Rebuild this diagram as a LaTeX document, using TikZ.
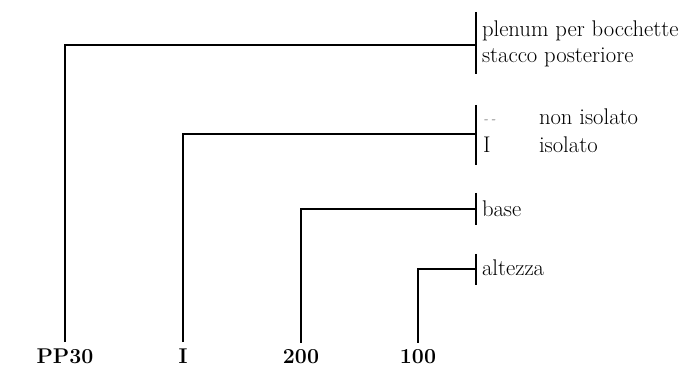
\documentclass[tikz,border=0pt]{standalone}
\begin{document}
\begin{tikzpicture}[x=0.75pt,y=-0.75pt,line width=1.5pt]
\tikzset{
  txt/.style={font=\fontsize{17}{20}\selectfont, inner sep=0pt, anchor=base west, text=black},
  code/.style={font=\fontsize{16}{20}\selectfont\bfseries, inner sep=0pt, anchor=base, text=black},
  dsh/.style={font=\fontsize{11}{11}\selectfont\itshape, inner sep=0pt, anchor=base west, text=black!55}
}
\useasboundingbox (0,0) rectangle (700,367);
% bottom codes
\node[code] (pp) at (65,363) {PP30};
\node[code] (is) at (183,363) {I};
\node[code] (ba) at (301,363) {200};
\node[code] (al) at (418,363) {100};
% bars
\coordinate (b1t) at (476,12);  \coordinate (b1b) at (476,74);  \coordinate (b1) at (476,45);
\coordinate (b2t) at (476,105); \coordinate (b2b) at (476,165); \coordinate (b2) at (476,134);
\coordinate (b3t) at (476,193); \coordinate (b3b) at (476,225); \coordinate (b3) at (476,209);
\coordinate (b4t) at (476,254); \coordinate (b4b) at (476,285); \coordinate (b4) at (476,269);
\draw (b1t) -- (b1b);
\draw (b2t) -- (b2b);
\draw (b3t) -- (b3b);
\draw (b4t) -- (b4b);
% connectors
\draw ([yshift=4pt]pp.north) |- (b1);
\draw ([yshift=4pt]is.north) |- (b2);
\draw ([yshift=4pt]ba.north) |- (b3);
\draw ([yshift=4pt]al.north) |- (b4);
% texts
\node[txt] (t1) at (481,37) {plenum per bocchette};
\node[txt] (t2) at (481,63) {stacco posteriore};
\node[dsh] (t3) at (482,124) {-\,-};
\node[txt] (t4) at (538,125) {non isolato};
\node[txt] (t5) at (482,153) {I};
\node[txt] (t6) at (538,153) {isolato};
\node[txt] (t7) at (481,217) {base};
\node[txt] (t8) at (481,276) {altezza};
\end{tikzpicture}
\end{document}
